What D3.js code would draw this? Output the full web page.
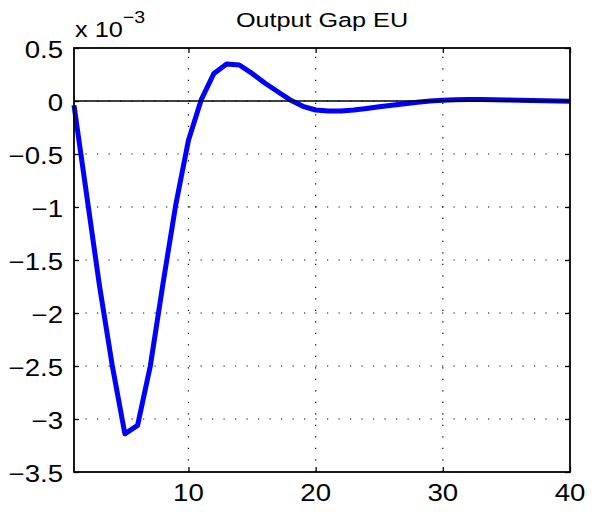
<!DOCTYPE html>
<html>
<head>
<meta charset="utf-8">
<script src="https://cdn.jsdelivr.net/npm/d3@7"></script>
<style>
  html, body { margin: 0; padding: 0; background: #fff; }
  svg { display: block; }
  text { font-family: "Liberation Sans", Arial, Helvetica, sans-serif; fill: #000; }
</style>
</head>
<body>
<svg id="chart" width="593" height="512"></svg>
<script>
// Impulse response of the EU output gap (values in units of 1e-3)
const periods = d3.range(1, 41);
const outputGap = [
  -0.04, -0.89, -1.74, -2.49, -3.14, -3.06, -2.50, -1.72, -0.98, -0.37,
   0.01,  0.26,  0.35,  0.34,  0.26,  0.17,  0.09,  0.01, -0.05, -0.085,
  -0.095, -0.095, -0.085, -0.07, -0.055, -0.04, -0.025, -0.012, 0.0, 0.008,
   0.012, 0.014, 0.013, 0.012, 0.010, 0.007, 0.005, 0.003, 0.0, -0.002
];
const yTicks = [-3.5, -3, -2.5, -2, -1.5, -1, -0.5, 0, 0.5];
const xTicks = [10, 20, 30, 40];
const titleText = "Output Gap EU";

const svg = d3.select("#chart");
const margin = { left: 74, right: 23, top: 48, bottom: 40 };
const W = 593, H = 512;
const x0 = margin.left, x1 = W - margin.right, y0 = margin.top, y1 = H - margin.bottom;

const x = d3.scaleLinear().domain([1, 40]).range([x0, x1]);
const y = d3.scaleLinear().domain([-3.5, 0.5]).range([y1, y0]);

const fmt = v => (v < 0 ? "\u2212" : "") + d3.format("~g")(Math.abs(v));
const stretch = 1.2;

// dotted grid
const grid = svg.append("g").attr("stroke", "#000").attr("stroke-width", 1.2)
  .attr("stroke-dasharray", "1.2,10.3").attr("fill", "none");
yTicks.filter(v => v > -3.5 && v < 0.5).forEach(v => {
  grid.append("line").attr("x1", x0).attr("x2", x1).attr("y1", y(v)).attr("y2", y(v));
});
xTicks.filter(v => v < 40).forEach(v => {
  grid.append("line").attr("x1", x(v)).attr("x2", x(v)).attr("y1", y1).attr("y2", y0);
});

// response line
const line = d3.line().x((d, i) => x(periods[i])).y(d => y(d));
svg.append("path").datum(outputGap)
  .attr("d", line)
  .attr("fill", "none")
  .attr("stroke", "#0000ff")
  .attr("stroke-width", 5)
  .attr("stroke-linejoin", "round");

// zero reference line
svg.append("line").attr("x1", x0).attr("x2", x1).attr("y1", y(0)).attr("y2", y(0))
  .attr("stroke", "#000").attr("stroke-width", 1.5);

// axes (ticks pointing inward), box
const axL = d3.axisLeft(y).tickValues(yTicks).tickSize(-5).tickFormat("");
const axR = d3.axisRight(y).tickValues(yTicks).tickSize(-5).tickFormat("");
const axB = d3.axisBottom(x).tickValues(xTicks).tickSize(-5).tickFormat("");
const axT = d3.axisTop(x).tickValues(xTicks).tickSize(-5).tickFormat("");
[[axL, `translate(${x0},0)`], [axR, `translate(${x1},0)`],
 [axB, `translate(0,${y1})`], [axT, `translate(0,${y0})`]].forEach(([ax, tr]) => {
  const g = svg.append("g").attr("transform", tr).call(ax);
  g.select(".domain").remove();
  g.selectAll(".tick line").attr("stroke", "#000").attr("stroke-width", 1.3);
});
svg.append("rect").attr("x", x0).attr("y", y0).attr("width", x1 - x0).attr("height", y1 - y0)
  .attr("fill", "none").attr("stroke", "#000").attr("stroke-width", 1.8);

// tick labels
yTicks.forEach(v => {
  svg.append("text")
    .attr("transform", `translate(63,${y(v) + 9.5}) scale(${stretch},1)`)
    .attr("text-anchor", "end")
    .style("font-size", "23px")
    .text(fmt(v));
});
xTicks.forEach(v => {
  svg.append("text")
    .attr("transform", `translate(${x(v)},500.5) scale(${stretch},1)`)
    .attr("text-anchor", "middle")
    .style("font-size", "23px")
    .text(fmt(v));
});

// exponent label
const ex = svg.append("text")
  .attr("transform", `translate(75,37) scale(1.15,1)`)
  .style("font-size", "22px");
ex.append("tspan").text("x 10");
ex.append("tspan").attr("dy", -14).style("font-size", "17px").text("\u22123");

// title
svg.append("text")
  .attr("transform", `translate(${(x0 + x1) / 2},27) scale(1.2,1)`)
  .attr("text-anchor", "middle")
  .style("font-size", "21px")
  .text(titleText);
</script>
</body>
</html>
